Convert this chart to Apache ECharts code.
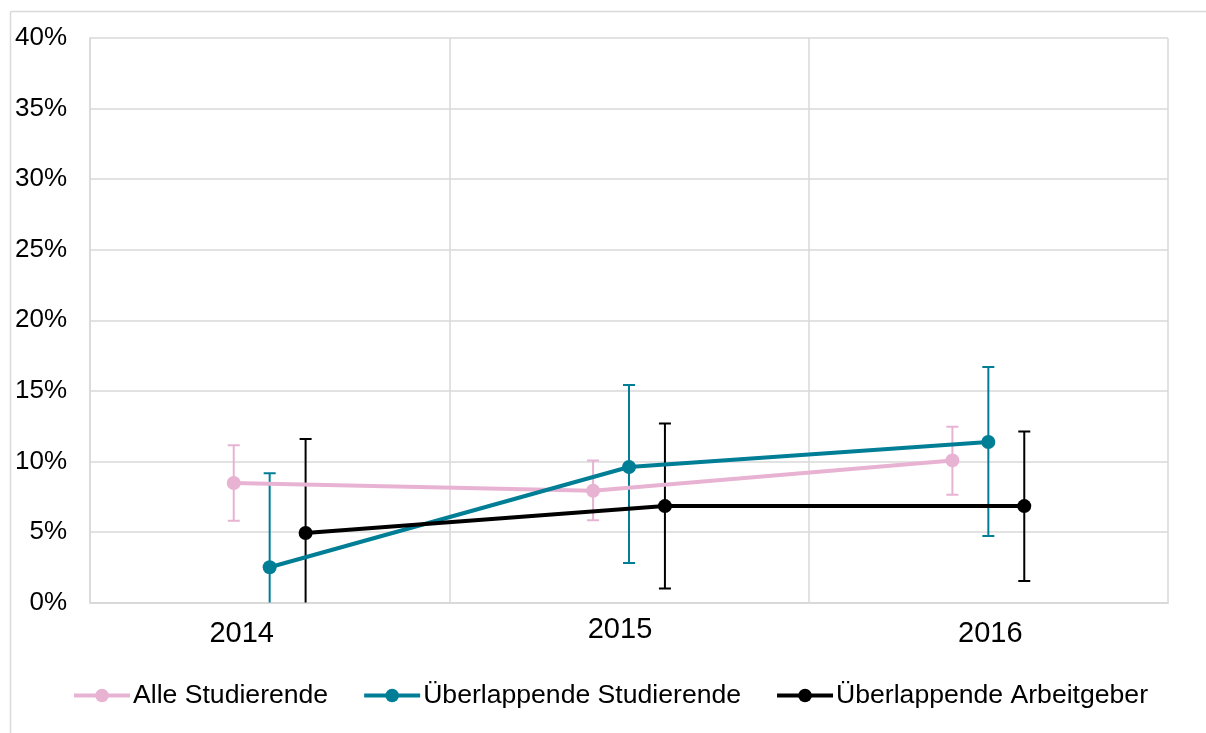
<!DOCTYPE html>
<html>
<head>
<meta charset="utf-8">
<script src="https://cdn.jsdelivr.net/npm/echarts@6/dist/echarts.min.js"></script>
<style>
html,body{margin:0;padding:0;background:#fff;}
#chart{width:1206px;height:733px;}
</style>
</head>
<body>
<div id="chart"></div>
<script>
const years = ['2014', '2015', '2016'];
const seriesNames = ['Alle Studierende', 'Überlappende Studierende', 'Überlappende Arbeitgeber'];
const alleValues = [8.47, 7.92, 10.07];
const alleLow = [5.80, 5.82, 7.63];
const alleHigh = [11.14, 10.07, 12.45];
const studValues = [2.50, 9.60, 11.37];
const studLow = [-4.15, 2.80, 4.71];
const studHigh = [9.15, 15.42, 16.68];
const arbValues = [4.93, 6.83, 6.83];
const arbLow = [-1.73, 1.00, 1.52];
const arbHigh = [11.59, 12.69, 12.12];
const yTicks = [0, 5, 10, 15, 20, 25, 30, 35, 40];

const colors = ['#E8B3D3', '#007E96', '#000000'];
const offsets = [-0.1, 0, 0.1];
const values = [alleValues, studValues, arbValues];
const lows = [alleLow, studLow, arbLow];
const highs = [alleHigh, studHigh, arbHigh];

const chart = echarts.init(document.getElementById('chart'), null, {renderer: 'canvas'});
const FONT = '"Liberation Sans", Arial, sans-serif';

const series = [];
for (let s = 0; s < 3; s++) {
  series.push({
    type: 'custom',
    name: seriesNames[s] + ' err',
    clip: true,
    z: 2,
    data: years.map((y, i) => [i + 0.5 + offsets[s], lows[s][i], highs[s][i]]),
    renderItem: function (params, api) {
      const x = api.value(0);
      const lo = api.coord([x, api.value(1)]);
      const hi = api.coord([x, api.value(2)]);
      const cw = 6;
      const st = {stroke: colors[s], lineWidth: 2};
      return {
        type: 'group',
        children: [
          {type: 'line', shape: {x1: lo[0], y1: lo[1], x2: hi[0], y2: hi[1]}, style: st},
          {type: 'line', shape: {x1: hi[0] - cw, y1: hi[1], x2: hi[0] + cw, y2: hi[1]}, style: st},
          {type: 'line', shape: {x1: lo[0] - cw, y1: lo[1], x2: lo[0] + cw, y2: lo[1]}, style: st}
        ]
      };
    }
  });
}
for (let s = 0; s < 3; s++) {
  series.push({
    type: 'line',
    name: seriesNames[s],
    z: 3,
    data: years.map((y, i) => [i + 0.5 + offsets[s], values[s][i]]),
    symbol: 'circle',
    symbolSize: 14,
    lineStyle: {color: colors[s], width: 4},
    itemStyle: {color: colors[s]},
    emphasis: {disabled: true}
  });
}

const labelShift = [
  {padding: [4, 56, 0, 0]},
  {padding: [0, 18, 0, 0]},
  {padding: [4, 0, 0, 4]}
];

chart.setOption({
  animation: false,
  backgroundColor: '#ffffff',
  textStyle: {fontFamily: FONT},
  graphic: [
    {type: 'line', shape: {x1: 10.5, y1: 11.5, x2: 10.5, y2: 733}, style: {stroke: '#d9d9d9', lineWidth: 1.5}, silent: true},
    {type: 'line', shape: {x1: 10.5, y1: 11.5, x2: 1206, y2: 11.5}, style: {stroke: '#d9d9d9', lineWidth: 1.5}, silent: true}
  ],
  grid: {left: 90, right: 38, top: 38, bottom: 130.5},
  legend: {
    data: seriesNames,
    left: 67,
    top: 677,
    itemWidth: 56,
    itemHeight: 17,
    itemGap: 34,
    lineStyle: {width: 4},
    textStyle: {fontSize: 26.6, color: '#000', fontFamily: FONT, padding: [0, 0, 0, -2]}
  },
  xAxis: {
    type: 'value',
    min: 0,
    max: 3,
    interval: 1,
    axisLine: {show: true, lineStyle: {color: '#d9d9d9', width: 2}},
    axisTick: {show: false},
    splitLine: {show: true, lineStyle: {color: '#d9d9d9', width: 1.5}},
    axisLabel: {
      customValues: [0.5, 1.5, 2.5],
      margin: 13,
      fontSize: 29,
      color: '#000',
      fontFamily: FONT,
      formatter: function (v) {
        const i = Math.floor(v);
        return '{l' + i + '|' + years[i] + '}';
      },
      rich: {
        l0: Object.assign({fontSize: 29, color: '#000', fontFamily: FONT}, labelShift[0]),
        l1: Object.assign({fontSize: 29, color: '#000', fontFamily: FONT}, labelShift[1]),
        l2: Object.assign({fontSize: 29, color: '#000', fontFamily: FONT}, labelShift[2])
      }
    }
  },
  yAxis: {
    type: 'value',
    min: yTicks[0],
    max: yTicks[yTicks.length - 1],
    interval: 5,
    axisLine: {show: true, lineStyle: {color: '#d9d9d9', width: 1.5}},
    axisTick: {show: false},
    splitLine: {show: true, lineStyle: {color: '#d9d9d9', width: 1.5}},
    axisLabel: {
      margin: 23,
      fontSize: 26,
      color: '#000',
      fontFamily: FONT,
      formatter: '{value}%'
    }
  },
  series: series
});
</script>
</body>
</html>
